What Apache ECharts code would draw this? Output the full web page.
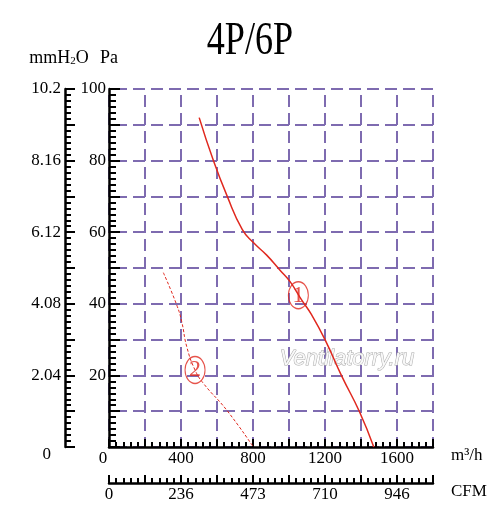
<!DOCTYPE html>
<html>
<head>
<meta charset="utf-8">
<script src="https://cdn.jsdelivr.net/npm/echarts@6/dist/echarts.min.js"></script>
<style>
    html, body { margin: 0; padding: 0; background: #fff; }
    #main { width: 500px; height: 520px; }
</style>
</head>
<body>
<div id="main"></div>
<script>
// 风量 m3/h, 静压 Pa
const curve1 = [[501, 92], [580, 80], [657, 70], [740, 60.8], [802, 57.1], [876, 53.6], [950, 49.4],
    [1006, 46.2], [1070, 41.1], [1126, 36.9], [1200, 30], [1293, 19.8], [1391, 9.9], [1471, 0]];
const curve2 = [[302, 48.7], [376, 39.7], [404, 35], [432, 28], [478, 21.5], [524, 17.8],
    [654, 10.3], [802, 0]];
const markerNames = ['1', '2'];
const markerPoints = [[1052, 42.4], [478, 21.5]];

const flowLabels = ['0', '400', '800', '1200', '1600'];
const cfmLabels = ['0', '236', '473', '710', '946'];
const paLabels = ['', '20', '40', '60', '80', '100'];
const mmLabels = ['0', '2.04', '4.08', '6.12', '8.16', '10.2'];

const red = '#e0281e';
const purple = '#7e6bb0';
const font = 'Liberation Serif';

const chart = echarts.init(document.getElementById('main'));

function bottomAxis(labels, offset, name, withSplit) {
    return {
        type: 'value',
        position: 'bottom',
        offset: offset,
        min: 0,
        max: 1800,
        interval: 200,
        name: name,
        nameLocation: 'end',
        nameGap: 18,
        nameTextStyle: { fontFamily: font, fontSize: 17, color: '#000', verticalAlign: 'top' },
        axisLine: { show: true, onZero: false, lineStyle: { color: '#000', width: 2.5 } },
        axisTick: { show: true, inside: true, length: 8, lineStyle: { color: '#000', width: 2 } },
        minorTick: { show: true, splitNumber: 5, length: 5, lineStyle: { color: '#000', width: 2 } },
        splitLine: { show: withSplit, lineStyle: { color: purple, width: 2, type: [12, 6], dashOffset: 12 } },
        axisLabel: {
            margin: 3,
            fontFamily: font,
            fontSize: 17,
            color: '#000',
            formatter: function (v) {
                if (v % 400 !== 0 || v / 400 >= labels.length) return '';
                if (v === 0 && withSplit) return '{z|' + labels[0] + '}';
                return labels[v / 400];
            },
            rich: { z: { fontFamily: font, fontSize: 17, color: '#000', padding: [0, 12, 0, 0] } }
        }
    };
}

chart.setOption({
    animation: false,
    grid: { left: 109, top: 89, width: 324, height: 358, show: false },
    graphic: [
        {
            type: 'text', x: 250, y: 42, scaleX: 0.77,
            style: { text: '4P/6P', font: '47px "Liberation Serif"', fill: '#000',
                textAlign: 'center', textVerticalAlign: 'middle' }
        },
        {
            type: 'text', x: 347, y: 359, z: 1,
            style: { text: 'Ventilatorry.ru', font: 'italic 22px "Liberation Sans"', fill: '#f8f8f8',
                stroke: '#a8a8a8', lineWidth: 1, textAlign: 'center', textVerticalAlign: 'middle' }
        }
    ],
    xAxis: [
        bottomAxis(flowLabels, 0, 'm³/h', true),
        bottomAxis(cfmLabels, 36, 'CFM', false)
    ],
    yAxis: [
        {
            type: 'value',
            position: 'left',
            min: 0,
            max: 100,
            interval: 10,
            name: 'Pa',
            nameLocation: 'end',
            nameGap: 22,
            nameTextStyle: { fontFamily: font, fontSize: 18, color: '#000' },
            axisLine: { show: true, onZero: false, lineStyle: { color: '#000', width: 2.5 } },
            axisTick: { show: true, inside: true, length: 11, lineStyle: { color: '#000', width: 2 } },
            minorTick: { show: true, splitNumber: 6, length: 7, lineStyle: { color: '#000', width: 2 } },
            splitLine: { show: true, lineStyle: { color: purple, width: 2, type: [12, 6], dashOffset: 12 } },
            axisLabel: {
                margin: 3,
                fontFamily: font,
                fontSize: 17,
                color: '#000',
                formatter: function (v) {
                    return v % 20 === 0 ? paLabels[v / 20] : '';
                }
            }
        },
        {
            type: 'value',
            position: 'left',
            offset: 44,
            min: 0,
            max: 10.2,
            interval: 1.02,
            name: 'mmH{s|2}O',
            nameLocation: 'end',
            nameGap: 22,
            nameTextStyle: {
                fontFamily: font, fontSize: 18, color: '#000', padding: [0, 12, 0, 0],
                rich: { s: { fontFamily: font, fontSize: 11, color: '#000', verticalAlign: 'bottom' } }
            },
            axisLine: { show: true, onZero: false, lineStyle: { color: '#000', width: 2.5 } },
            axisTick: { show: true, inside: true, length: 10, lineStyle: { color: '#000', width: 2 } },
            minorTick: { show: true, splitNumber: 6, length: 6, lineStyle: { color: '#000', width: 2 } },
            splitLine: { show: false },
            axisLabel: {
                margin: 4,
                fontFamily: font,
                fontSize: 17,
                color: '#000',
                formatter: function (v) {
                    const k = Math.round(v / 1.02);
                    if (k % 2 !== 0) return '';
                    if (k === 0) return '{z|' + mmLabels[0] + '}';
                    return mmLabels[k / 2];
                },
                rich: { z: { fontFamily: font, fontSize: 17, color: '#000', padding: [16, 10, 0, 0] } }
            }
        }
    ],
    series: [
        {
            name: '1',
            type: 'line',
            smooth: 0.5,
            showSymbol: false,
            data: curve1,
            lineStyle: { color: red, width: 1.5 },
            z: 3
        },
        {
            name: '2',
            type: 'line',
            smooth: 0.5,
            showSymbol: false,
            data: curve2,
            lineStyle: { color: red, width: 1, type: [3, 2] },
            z: 3
        },
        {
            type: 'scatter',
            symbol: 'circle',
            symbolSize: [20, 27],
            data: markerPoints.map(function (p, i) { return { name: markerNames[i], value: p }; }),
            itemStyle: { color: 'rgba(0,0,0,0)', borderColor: red, borderWidth: 1.2 },
            label: {
                show: true,
                position: 'inside',
                formatter: '{b}',
                fontFamily: font,
                fontSize: 24,
                color: red
            },
            z: 4
        }
    ]
});
</script>
</body>
</html>
